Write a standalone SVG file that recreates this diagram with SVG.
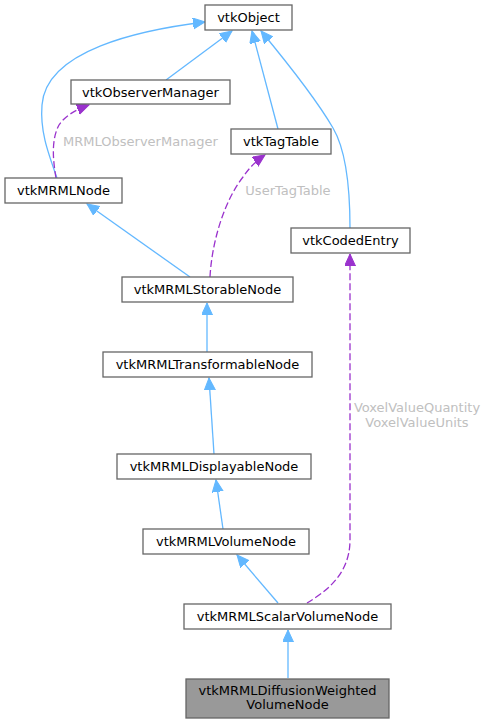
<svg xmlns="http://www.w3.org/2000/svg" width="488" height="724" viewBox="0 0 488 724">
<style>
.n rect{fill:#ffffff;stroke:#666666;stroke-width:1.3}
.n.h rect{fill:#999999}
.n text{font-family:"DejaVu Sans",sans-serif;font-size:13px;fill:#000000;text-anchor:middle}
.e{fill:none;stroke:#63b8ff;stroke-width:1.3}
.d{fill:none;stroke:#9a32cd;stroke-width:1.3;stroke-dasharray:7,3}
.l{font-family:"DejaVu Sans",sans-serif;font-size:13px;fill:#c0c0c0;text-anchor:middle}
</style>
<defs>
<marker id="ab" markerUnits="userSpaceOnUse" markerWidth="13" markerHeight="12" refX="12" refY="5.5" orient="auto" viewBox="0 0 13 12">
<path d="M0,0 L12,5.5 L0,11 Z" fill="#63b8ff" stroke="#63b8ff" stroke-width="1"/>
</marker>
<marker id="ap" markerUnits="userSpaceOnUse" markerWidth="13" markerHeight="12" refX="12" refY="5.5" orient="auto" viewBox="0 0 13 12">
<path d="M0,0 L12,5.5 L0,11 Z" fill="#9a32cd" stroke="#9a32cd" stroke-width="1"/>
</marker>
</defs>
<g id="connectors">
<path class="e" d="M166,80 L232,31" marker-end="url(#ab)"/>
<path class="e" d="M57,178 C47,150 40,130 42,105 C46,50 140,30 205,22" marker-end="url(#ab)"/>
<path class="d" d="M56,178 C53,160 51,140 59,125 C65,116 75,110 89,105" marker-end="url(#ap)"/>
<path class="e" d="M278,129 L252,31" marker-end="url(#ab)"/>
<path class="e" d="M350,228 C350,190 346,150 333,128 C315,97 285,60 261,31" marker-end="url(#ab)"/>
<path class="e" d="M190,277 L87,204" marker-end="url(#ab)"/>
<path class="d" d="M210,277 C212,240 225,200 243,177 C250,167 256,161 265,155" marker-end="url(#ap)"/>
<path class="e" d="M207,352 L207,303" marker-end="url(#ab)"/>
<path class="e" d="M214,454 L209,378" marker-end="url(#ab)"/>
<path class="e" d="M223,529 L216,480" marker-end="url(#ab)"/>
<path class="e" d="M278,603 L237,555" marker-end="url(#ab)"/>
<path class="d" d="M307,603 C325,592 350,575 350,540 L350,254" marker-end="url(#ap)"/>
<path class="e" d="M288,678 L288,630" marker-end="url(#ab)"/>
<text class="l" x="140.5" y="145.5">MRMLObserverManager</text>
<text class="l" x="288" y="194.5">UserTagTable</text>
<text class="l" x="417" y="411.5">VoxelValueQuantity</text>
<text class="l" x="417" y="426.5">VoxelValueUnits</text>
</g>
<g id="vtkObject" class="n"><rect x="205" y="5" width="87" height="25"/><text x="248.5" y="22">vtkObject</text></g>
<g id="vtkObserverManager" class="n"><rect x="71" y="80" width="159" height="24"/><text x="150.5" y="96.5">vtkObserverManager</text></g>
<g id="vtkTagTable" class="n"><rect x="231" y="129" width="100" height="25"/><text x="281" y="146">vtkTagTable</text></g>
<g id="vtkMRMLNode" class="n"><rect x="5" y="178" width="117" height="25"/><text x="63.5" y="195">vtkMRMLNode</text></g>
<g id="vtkCodedEntry" class="n"><rect x="291" y="228" width="119" height="25"/><text x="350.5" y="245">vtkCodedEntry</text></g>
<g id="vtkMRMLStorableNode" class="n"><rect x="122" y="277" width="171" height="25"/><text x="207.5" y="294">vtkMRMLStorableNode</text></g>
<g id="vtkMRMLTransformableNode" class="n"><rect x="103" y="352" width="209" height="25"/><text x="207.5" y="369">vtkMRMLTransformableNode</text></g>
<g id="vtkMRMLDisplayableNode" class="n"><rect x="117" y="454" width="194" height="25"/><text x="214" y="471">vtkMRMLDisplayableNode</text></g>
<g id="vtkMRMLVolumeNode" class="n"><rect x="143" y="529" width="166" height="25"/><text x="226" y="546">vtkMRMLVolumeNode</text></g>
<g id="vtkMRMLScalarVolumeNode" class="n"><rect x="184" y="604" width="207" height="25"/><text x="287.5" y="621">vtkMRMLScalarVolumeNode</text></g>
<g id="vtkMRMLDiffusionWeightedVolumeNode" class="n h"><rect x="186" y="679" width="203" height="39"/><text x="287.5" y="694.5">vtkMRMLDiffusionWeighted</text><text x="287.5" y="709">VolumeNode</text></g>
</svg>
